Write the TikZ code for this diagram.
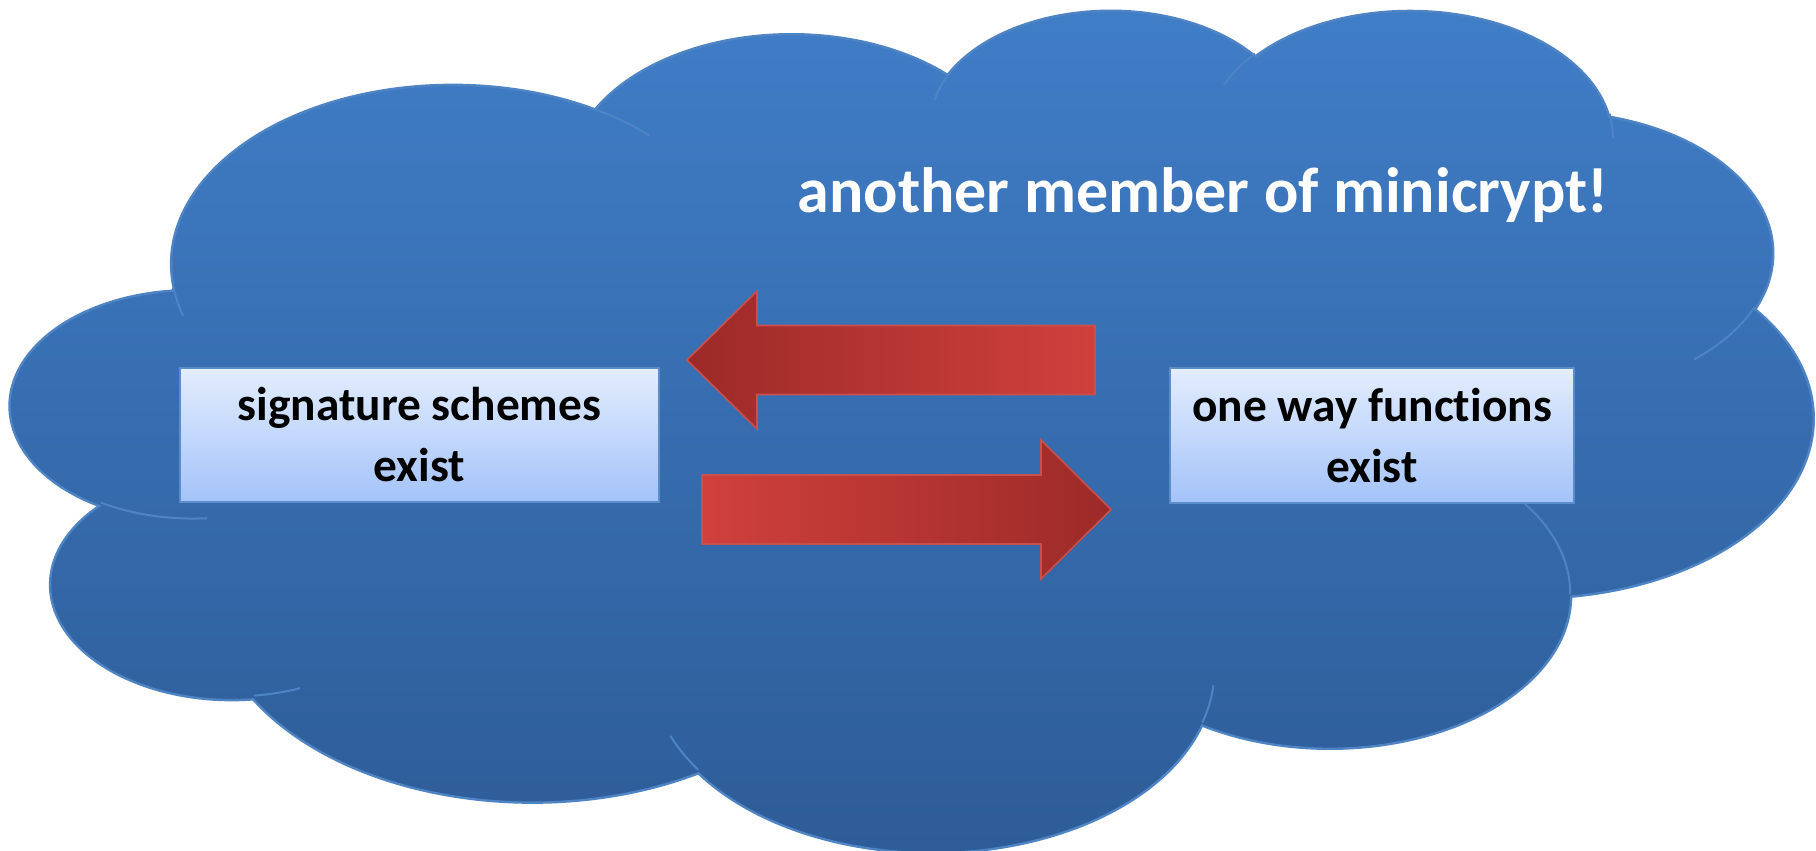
\documentclass[tikz,border=0pt]{standalone}
\usepackage{fontspec}
\setmainfont{Carlito}[Ligatures=NoCommon]
\usetikzlibrary{calc}

\definecolor{cloudtop}{HTML}{407EC8}
\definecolor{cloudbot}{HTML}{2D5B96}
\definecolor{cloudline}{HTML}{4F84C4}
\definecolor{boxtop}{HTML}{E3EDFD}
\definecolor{boxbot}{HTML}{A3C3F9}
\definecolor{boxline}{HTML}{5B8DCB}
\definecolor{arrowdark}{HTML}{9C2A28}
\definecolor{arrowlight}{HTML}{D0403C}
\definecolor{arrowline}{HTML}{C9504B}

% Elliptical arc given DrawingML-style: radii plus visual start and sweep
% angles (degrees); converts them to parametric angles for TikZ.
\newcommand\ooarc[4]{%
  \pgfmathsetmacro\oova{#3}%
  \pgfmathsetmacro\oovb{#3+#4}%
  \pgfmathsetmacro\oota{atan2((#1)*sin(\oova),(#2)*cos(\oova))}%
  \pgfmathsetmacro\ootb{atan2((#1)*sin(\oovb),(#2)*cos(\oovb))}%
  \pgfmathsetmacro\oodd{\ootb-\oota}%
  \pgfmathsetmacro\oodd{\oodd-360*round((\oodd-(#4))/360)}%
}

\tikzset{
  ooarc/.style n args={4}{/utils/exec={\ooarc{#1}{#2}{#3}{#4}},
    insert path={arc[start angle=\oota, delta angle=\oodd, x radius=#1, y radius=#2]}},
  cloudbody/.style={draw=cloudline, line width=1.2pt, top color=cloudtop, bottom color=cloudbot},
  cloudseam/.style={draw=cloudline, line width=1pt},
  claimbox/.style={draw=boxline, line width=1.3pt, top color=boxtop, bottom color=boxbot,
    inner sep=0pt, align=center, text=black,
    font=\bfseries\fontsize{23.7}{30.5}\selectfont},
  headline/.style={text=white, inner sep=0pt, font=\bfseries\fontsize{32}{38}\selectfont},
  blockarrow/.style={draw=arrowline, line width=0.8pt, line join=miter},
}

\begin{document}
\begin{tikzpicture}[x=0.5pt, y=-0.5pt]
\useasboundingbox (0,0) rectangle (1816,851);

% cloud outline, in a 43.2 x 43.2 shape space
\begin{scope}[shift={(11,8)}, x=20.856pt, y=-9.7454pt]
  \path[cloudbody] (3.900,14.370)
    [ooarc={6.753}{9.190}{-190.48748}{123.78053}]
    [ooarc={5.333}{7.267}{-144.10238}{89.94523}]
    [ooarc={4.365}{5.945}{-145.80792}{99.72302}]
    [ooarc={4.857}{6.595}{-130.98607}{117.24173}]
    [ooarc={5.333}{7.273}{-78.70888}{109.02692}]
    [ooarc={6.775}{9.220}{-46.26725}{130.269}]
    [ooarc={5.785}{7.867}{0.62502}{114.03333}]
    [ooarc={6.752}{9.215}{22.4516}{115.17255}]
    [ooarc={7.720}{10.543}{66.24263}{75.71102}]
    [ooarc={4.360}{5.918}{-274.94208}{146.73557}]
    [ooarc={4.345}{5.945}{-246.8285}{152.51885}]
    -- cycle;
  % seams between the puffs
  \path[cloudseam]
    (4.693,26.177) [ooarc={4.345}{5.945}{86.742}{26.4295}]
    (6.928,34.899) [ooarc={4.360}{5.918}{73.61047}{11.44747}]
    (16.478,39.090) [ooarc={6.752}{9.215}{137.62415}{14.0811}]
    (28.827,34.751) [ooarc={6.752}{9.215}{6.45327}{15.99835}]
    (34.129,22.954) [ooarc={5.785}{7.867}{-70.29235}{70.91737}]
    (41.798,15.354) [ooarc={5.333}{7.273}{30.31803}{27.7515}]
    (38.324,5.426) [ooarc={4.857}{6.595}{-13.74433}{14.8589}]
    (29.078,3.952) [ooarc={4.857}{6.595}{-149.18145}{18.19537}]
    (22.141,4.720) [ooarc={4.365}{5.945}{-163.49427}{17.68635}]
    (14.000,5.192) [ooarc={6.753}{9.190}{-66.70695}{12.31935}]
    (4.127,15.789) [ooarc={6.753}{9.190}{157.65435}{11.85817}];
\end{scope}

\node[headline, anchor=base] (title) at (1203,212) {another member of minicrypt!};

\node[claimbox, minimum width=239.5pt, minimum height=67pt] (sig) at (419.5,435)
  {signature schemes\\exist};
\node[claimbox, minimum width=202pt, minimum height=67.5pt] (owf) at (1372,435.5)
  {one way functions\\exist};

% block arrows between the two claims
\coordinate (ltip) at (687,360);
\coordinate (lend) at (1095,360);
\coordinate (rtip) at (1111,509.5);
\coordinate (rend) at (702,509.5);

\draw[blockarrow, left color=arrowdark, right color=arrowlight]
  (ltip) -- ($(ltip)+(70,-69)$) -- ($(ltip)+(70,-34.5)$) -- ($(lend)+(0,-34.5)$)
  -- ($(lend)+(0,34.5)$) -- ($(ltip)+(70,34.5)$) -- ($(ltip)+(70,69)$) -- cycle;
\draw[blockarrow, left color=arrowlight, right color=arrowdark]
  (rtip) -- ($(rtip)+(-70,-69.5)$) -- ($(rtip)+(-70,-34.5)$) -- ($(rend)+(0,-34.5)$)
  -- ($(rend)+(0,34.5)$) -- ($(rtip)+(-70,34.5)$) -- ($(rtip)+(-70,69.5)$) -- cycle;
\end{tikzpicture}
\end{document}
